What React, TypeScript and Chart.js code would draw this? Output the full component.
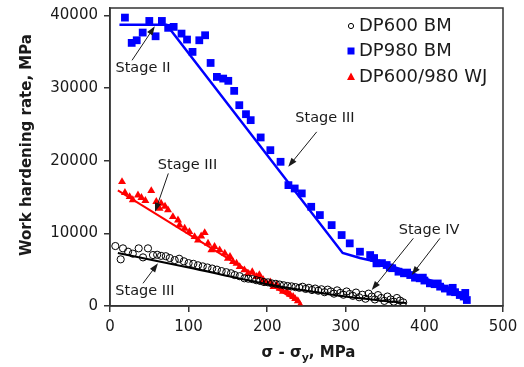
import React, { useEffect, useRef } from "react";
import { Chart, registerables } from "chart.js";

Chart.register(...registerables);

const FONT = "'DejaVu Sans', sans-serif";
const TEXT = "#1a1a1a";

const xTicks = [0, 100, 200, 300, 400, 500];
const yTicks = [0, 10000, 20000, 30000, 40000];

// DP600 BM (open circles)
const blackX = [6.8, 13.6, 16.5, 23, 29, 36.5, 42, 48.3, 54.7, 60, 65, 71, 76, 82.3, 88, 94, 100, 106, 112, 118, 124, 130, 136, 142, 148, 154, 158.6, 165, 171, 176, 181, 186, 191, 196, 201, 206, 211, 216, 221, 226, 231, 236, 241, 245, 249, 253, 257, 261, 265, 269, 273, 277, 281, 285, 289, 293, 297, 301, 305, 309, 313, 317, 321, 325, 329, 333, 337, 341, 345, 349, 353, 357, 361, 365, 369, 373];
const blackY = [8250, 6420, 7930, 7470, 7200, 7930, 6690, 7930, 7010, 7050, 6900, 6850, 6600, 6320, 6500, 6150, 5900, 5800, 5600, 5450, 5300, 5150, 5000, 4800, 4650, 4500, 4260, 4100, 3810, 3750, 3700, 3550, 3450, 3300, 3250, 3100, 3050, 2950, 2850, 2750, 2700, 2600, 2500, 2650, 2350, 2500, 2200, 2400, 2100, 2300, 1900, 2250, 2000, 1700, 2150, 1800, 1550, 2000, 1650, 1400, 1850, 1200, 1550, 1000, 1700, 1300, 900, 1500, 1100, 700, 1300, 900, 600, 1100, 750, 500];
const blackFitX = [10, 100, 200, 300, 377];
const blackFitY = [7300, 5300, 3000, 1300, 400];

// DP980 BM (blue squares)
const blueX = [19, 27.6, 34, 41.6, 50, 58, 66, 74, 81, 91, 98, 105, 113.6, 121, 128, 136, 144, 150.5, 158, 164.5, 173, 179, 191.7, 204, 217, 227, 235, 244, 256, 267, 282, 294.7, 305, 318, 331, 336, 339, 346, 352, 356, 359, 367, 374, 378, 382, 388, 394, 398, 400, 407, 413, 417, 420, 426, 433, 436, 439, 445, 450, 452, 454];
const blueY = [39680, 36200, 36560, 37620, 39220, 37110, 39220, 38270, 38400, 37480, 36660, 34960, 36560, 37250, 33440, 31520, 31290, 30980, 29600, 27630, 26390, 25570, 23190, 21440, 19840, 16630, 16170, 15490, 13650, 12510, 11130, 9760, 8620, 7470, 7010, 6600, 5870, 5900, 5640, 5300, 5200, 4720, 4500, 4600, 4260, 3900, 3810, 3900, 3500, 3120, 3000, 3100, 2660, 2400, 1970, 2500, 1900, 1510, 1300, 1800, 820];
const blueFitX = [12, 72, 296, 318, 348, 380, 420, 455];
const blueFitY = [38700, 38700, 7300, 6600, 5870, 4700, 3000, 1400];

// DP600/980 WJ (red triangles)
const redX = [15.3, 19, 25, 29, 35.6, 40, 45, 52.5, 58.9, 63, 65, 70, 73.8, 80, 86.5, 88.5, 95, 101, 107.6, 112, 116, 120.5, 124.7, 129, 133, 139.5, 146, 150, 152.7, 156.5, 161, 165, 171, 175.6, 181, 186.6, 190, 195, 199, 204, 208, 212, 216, 220, 225, 229, 233, 235.6, 239, 242];
const redY = [17090, 15600, 15030, 14600, 15260, 14900, 14500, 15850, 14350, 13430, 14110, 13700, 13200, 12280, 11820, 11130, 10670, 10210, 9530, 9070, 9600, 10080, 8620, 7700, 8160, 7700, 7240, 6550, 6780, 6090, 5870, 5400, 4950, 4490, 4700, 4030, 4300, 3600, 3120, 3300, 2660, 2900, 2400, 2000, 1970, 1600, 1290, 1000, 700, 140];
const redFitX = [10, 242];
const redFitY = [15900, 400];

const legendLabels = ["DP600 BM", "DP980 BM", "DP600/980 WJ"];
const xTitleParts = ["σ - σ", "y", ", MPa"];
const yTitle = "Work hardening rate, MPa";

// annotations in data coordinates: text, text pos, arrows [fromX, fromY, tipX, tipY]
const stageLabels = [
  { text: "Stage II", x: 42, y: 32700, arrows: [[28, 33800, 57, 38490]] },
  { text: "Stage III", x: 273.5, y: 25840, arrows: [[263, 23960, 226.8, 19150]] },
  { text: "Stage III", x: 98.6, y: 19380, arrows: [[74.2, 18240, 57.3, 12960]] },
  { text: "Stage III", x: 44.5, y: 1970, arrows: [[42, 3120, 61, 5870]] },
  { text: "Stage IV", x: 405.9, y: 10450, arrows: [[385.9, 9310, 333, 2200], [419.8, 9310, 383.8, 4260]] },
];

const pts = (xs: number[], ys: number[]) => xs.map((x, i) => ({ x, y: ys[i] }));

function drawArrow(ctx: CanvasRenderingContext2D, x1: number, y1: number, x2: number, y2: number) {
  const ang = Math.atan2(y2 - y1, x2 - x1);
  const len = 9;
  const w = 3.2;
  const c = Math.cos(ang);
  const s = Math.sin(ang);
  ctx.beginPath();
  ctx.moveTo(x1, y1);
  ctx.lineTo(x2 - c * len * 0.7, y2 - s * len * 0.7);
  ctx.stroke();
  ctx.beginPath();
  ctx.moveTo(x2, y2);
  ctx.lineTo(x2 - len * c + w * s, y2 - len * s - w * c);
  ctx.lineTo(x2 - len * c - w * s, y2 - len * s + w * c);
  ctx.closePath();
  ctx.fill();
}

export default function App() {
  const ref = useRef<HTMLCanvasElement>(null);

  useEffect(() => {
    const decor = {
      id: "decor",
      afterDraw(chart: any) {
        const ctx: CanvasRenderingContext2D = chart.ctx;
        const a = chart.chartArea;
        const sx = chart.scales.x;
        const sy = chart.scales.y;
        ctx.save();
        // frame
        ctx.strokeStyle = "#333";
        ctx.lineWidth = 1.5;
        ctx.strokeRect(a.left, a.top, a.right - a.left, a.bottom - a.top);

        // stage annotations
        ctx.fillStyle = TEXT;
        ctx.strokeStyle = TEXT;
        ctx.lineWidth = 1;
        ctx.font = `14.5px ${FONT}`;
        ctx.textAlign = "center";
        ctx.textBaseline = "middle";
        for (const l of stageLabels) {
          ctx.fillText(l.text, sx.getPixelForValue(l.x), sy.getPixelForValue(l.y));
          for (const ar of l.arrows) {
            drawArrow(
              ctx,
              sx.getPixelForValue(ar[0]),
              sy.getPixelForValue(ar[1]),
              sx.getPixelForValue(ar[2]),
              sy.getPixelForValue(ar[3])
            );
          }
        }

        // legend
        const lx = a.right - 152;
        const rows = [a.top + 18, a.top + 43, a.top + 69];
        ctx.font = `18px ${FONT}`;
        ctx.textAlign = "left";
        ctx.fillStyle = TEXT;
        legendLabels.forEach((t, i) => ctx.fillText(t, lx + 8, rows[i]));
        ctx.strokeStyle = "#000";
        ctx.lineWidth = 1;
        ctx.beginPath();
        ctx.arc(lx, rows[0], 2.6, 0, Math.PI * 2);
        ctx.stroke();
        ctx.fillStyle = "#0000ff";
        ctx.fillRect(lx - 3.5, rows[1] - 3.5, 7, 7);
        ctx.fillStyle = "#ff0000";
        ctx.beginPath();
        ctx.moveTo(lx, rows[2] - 4.5);
        ctx.lineTo(lx + 4, rows[2] + 3);
        ctx.lineTo(lx - 4, rows[2] + 3);
        ctx.closePath();
        ctx.fill();

        // y title
        ctx.fillStyle = TEXT;
        ctx.font = `bold 15px ${FONT}`;
        ctx.textAlign = "center";
        ctx.textBaseline = "middle";
        ctx.save();
        ctx.translate(27, 145);
        ctx.rotate(-Math.PI / 2);
        ctx.fillText(yTitle, 0, 0);
        ctx.restore();

        // x title with subscript
        const bold = `bold 15px ${FONT}`;
        const sub = `bold 11px ${FONT}`;
        ctx.font = bold;
        const w0 = ctx.measureText(xTitleParts[0]).width;
        const w2 = ctx.measureText(xTitleParts[2]).width;
        ctx.font = sub;
        const w1 = ctx.measureText(xTitleParts[1]).width;
        const total = w0 + w1 + w2;
        let cx = (a.left + a.right) / 2 + 2 - total / 2;
        const ty = 353;
        ctx.textAlign = "left";
        ctx.font = bold;
        ctx.fillText(xTitleParts[0], cx, ty);
        cx += w0;
        ctx.font = sub;
        ctx.fillText(xTitleParts[1], cx, ty + 5);
        cx += w1;
        ctx.font = bold;
        ctx.fillText(xTitleParts[2], cx, ty);
        ctx.restore();
      },
    };

    const chart = new Chart(ref.current as HTMLCanvasElement, {
      type: "scatter",
      data: {
        datasets: [
          {
            type: "line",
            label: "DP980 BM fit",
            data: pts(blueFitX, blueFitY),
            borderColor: "#0000ff",
            borderWidth: 2.5,
            pointRadius: 0,
            showLine: true,
            fill: false,
            tension: 0,
            order: 0,
          },
          {
            label: legendLabels[1],
            data: pts(blueX, blueY),
            pointStyle: "rect",
            pointRadius: 5.5,
            backgroundColor: "#0000ff",
            borderColor: "#0000ff",
            borderWidth: 0,
            order: 1,
          },
          {
            type: "line",
            label: "DP600 BM fit",
            data: pts(blackFitX, blackFitY),
            borderColor: "#000",
            borderWidth: 2,
            pointRadius: 0,
            showLine: true,
            fill: false,
            tension: 0.3,
            order: 2,
          },
          {
            label: legendLabels[0],
            data: pts(blackX, blackY),
            pointStyle: "circle",
            pointRadius: 3.6,
            backgroundColor: "rgba(255,255,255,0)",
            borderColor: "#000",
            borderWidth: 1,
            order: 3,
          },
          {
            type: "line",
            label: "DP600/980 WJ fit",
            data: pts(redFitX, redFitY),
            borderColor: "#ff0000",
            borderWidth: 2,
            pointRadius: 0,
            showLine: true,
            fill: false,
            order: 4,
          },
          {
            label: legendLabels[2],
            data: pts(redX, redY),
            pointStyle: "triangle",
            pointRadius: 4.6,
            backgroundColor: "#ff0000",
            borderColor: "#ff0000",
            borderWidth: 0,
            order: 5,
          },
        ],
      },
      options: {
        animation: false,
        responsive: false,
        devicePixelRatio: 1,
        layout: { padding: { left: 0, right: 21, top: 8, bottom: 0 } },
        plugins: {
          legend: { display: false },
          tooltip: { enabled: false },
          title: { display: false },
        },
        scales: {
          x: {
            type: "linear",
            min: 0,
            max: 500,
            ticks: {
              maxRotation: 0,
              padding: 6,
              color: TEXT,
              font: { family: FONT, size: 15 },
              callback: (v: any) => String(v),
            },
            afterBuildTicks: (s: any) => {
              s.ticks = xTicks.map((v) => ({ value: v }));
            },
            grid: {
              drawOnChartArea: false,
              drawTicks: true,
              tickLength: 6,
              color: "#333",
              lineWidth: 1.5,
            },
            border: { display: true, color: "#333", width: 1.5 },
            afterFit: (s: any) => {
              s.height = 61;
              s.paddingLeft = 0;
              s.paddingRight = 0;
            },
          },
          y: {
            type: "linear",
            min: 0,
            max: 41000,
            ticks: {
              padding: 6,
              color: TEXT,
              font: { family: FONT, size: 15 },
              callback: (v: any) => String(v),
            },
            afterBuildTicks: (s: any) => {
              s.ticks = yTicks.map((v) => ({ value: v }));
            },
            grid: {
              drawOnChartArea: false,
              drawTicks: true,
              tickLength: 6,
              color: "#333",
              lineWidth: 1.5,
            },
            border: { display: true, color: "#333", width: 1.5 },
            afterFit: (s: any) => {
              s.width = 110;
              s.paddingTop = 0;
              s.paddingBottom = 0;
            },
          },
        },
      },
      plugins: [decor],
    } as any);

    return () => chart.destroy();
  }, []);

  return (
    <div style={{ position: "fixed", left: 0, top: 0, width: 524, height: 367, background: "#fff" }}>
      <canvas ref={ref} width={524} height={367} style={{ display: "block", width: 524, height: 367 }} />
    </div>
  );
}
